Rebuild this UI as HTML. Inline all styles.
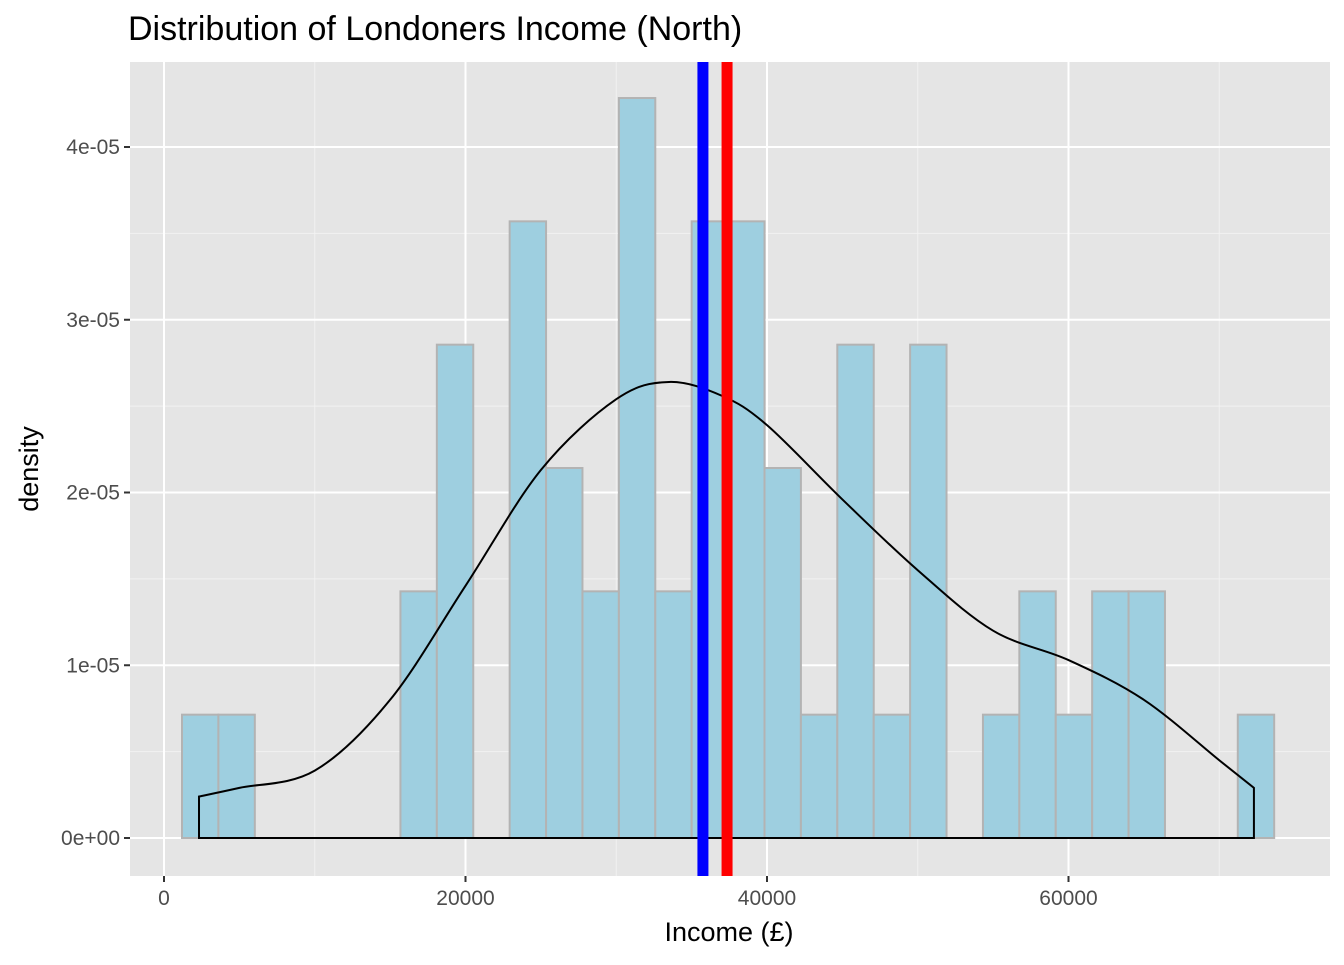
<!DOCTYPE html>
<html><head><meta charset="utf-8"><style>
body{margin:0;background:#fff;font-family:"Liberation Sans",Arial,sans-serif;}
</style></head><body>
<svg id="chart" width="1344" height="960" xmlns="http://www.w3.org/2000/svg" font-family="Liberation Sans, Arial, sans-serif">
<rect width="1344" height="960" fill="#fff"/>
<text x="128" y="40" font-size="34" fill="#000">Distribution of Londoners Income (North)</text>
<rect x="130" y="62" width="1200" height="814" fill="#e5e5e5"/>
<g id="grid"></g>
<g id="bars"></g>
<g id="curve"></g>
<g id="vlines"></g>
<g id="axes"></g>
<text x="729" y="941" font-size="27" text-anchor="middle" fill="#000">Income (£)</text>
<text transform="translate(38,469) rotate(-90)" font-size="27" text-anchor="middle" fill="#000">density</text>
</svg>
<script>
const binStart = 1194;
const binWidth = 2415;
const counts = [1,1,0,0,0,0,2,4,0,5,3,2,6,2,5,5,3,1,4,1,4,0,1,2,1,2,2,0,0,1];
const nObs = 58;
const densX = [2322,5000,10000,15000,20000,25000,30000,33500,37000,40000,45000,50000,55000,60000,65000,70000,72300];
const densY = [0.24e-5,0.29e-5,0.39e-5,0.8e-5,1.46e-5,2.13e-5,2.54e-5,2.64e-5,2.56e-5,2.39e-5,1.96e-5,1.55e-5,1.2e-5,1.03e-5,0.8e-5,0.45e-5,0.29e-5];
const meanVal = 37350;
const medianVal = 35750;
const xTicks = [0,20000,40000,60000];
const xMinor = [10000,30000,50000,70000];
const yTicks = [0,1e-5,2e-5,3e-5,4e-5];
const yTickLabels = ["0e+00","1e-05","2e-05","3e-05","4e-05"];
const yMinor = [0.5e-5,1.5e-5,2.5e-5,3.5e-5];

const NS="http://www.w3.org/2000/svg";
const X = v => 164 + v*0.015075;
const Y = v => 838 - v*1.7275e7;
const L=130,R=1330,T=62,B=876;
function mk(tag, parent, attrs){const e=document.createElementNS(NS,tag);for(const k in attrs)e.setAttribute(k,attrs[k]);document.getElementById(parent).appendChild(e);return e;}

xMinor.forEach(v=>{const e=mk('line','grid',{x1:X(v),x2:X(v),y1:T,y2:B,stroke:'#f2f2f2','stroke-width':1});

});
yMinor.forEach(v=>{const e=mk('line','grid',{x1:L,x2:R,y1:Y(v),y2:Y(v),stroke:'#f2f2f2','stroke-width':1});

});
xTicks.forEach(v=>{const e=mk('line','grid',{x1:X(v),x2:X(v),y1:T,y2:B,stroke:'#fff','stroke-width':2});

});
yTicks.forEach(v=>{const e=mk('line','grid',{x1:L,x2:R,y1:Y(v),y2:Y(v),stroke:'#fff','stroke-width':2});

});

counts.forEach((c,i)=>{if(c===0)return;
const d=c/(nObs*binWidth);
const x0=X(binStart+i*binWidth),x1=X(binStart+(i+1)*binWidth);
const e=mk('rect','bars',{x:x0,y:Y(d),width:x1-x0,height:Y(0)-Y(d),fill:'#9ecfe0',stroke:'#b3b3b3','stroke-width':2});

});

const pts=densX.map((v,i)=>[X(v),Y(densY[i])]);
let d=`M${X(densX[0])},${Y(0)} L${pts[0][0]},${pts[0][1]}`;
for(let i=0;i<pts.length-1;i++){const p0=pts[Math.max(i-1,0)],p1=pts[i],p2=pts[i+1],p3=pts[Math.min(i+2,pts.length-1)];
d+=` C${p1[0]+(p2[0]-p0[0])/6},${p1[1]+(p2[1]-p0[1])/6} ${p2[0]-(p3[0]-p1[0])/6},${p2[1]-(p3[1]-p1[1])/6} ${p2[0]},${p2[1]}`;}
d+=` L${X(densX[densX.length-1])},${Y(0)} Z`;
const cv=mk('path','curve',{d:d,fill:'none',stroke:'#000','stroke-width':2});



const med=mk('line','vlines',{x1:X(medianVal),x2:X(medianVal),y1:T,y2:B,stroke:'#0000ff','stroke-width':11});


const mn=mk('line','vlines',{x1:X(meanVal),x2:X(meanVal),y1:T,y2:B,stroke:'#ff0000','stroke-width':11});



xTicks.forEach(v=>{const t=mk('line','axes',{x1:X(v),x2:X(v),y1:B,y2:B+6,stroke:'#333','stroke-width':2});


const l=mk('text','axes',{x:X(v),y:B+29,'font-size':21,'text-anchor':'middle',fill:'#4d4d4d'});l.textContent=v;

});
yTicks.forEach((v,i)=>{const t=mk('line','axes',{x1:L-6,x2:L,y1:Y(v),y2:Y(v),stroke:'#333','stroke-width':2});


const l=mk('text','axes',{x:L-10,y:Y(v)+7,'font-size':21,'text-anchor':'end',fill:'#4d4d4d'});l.textContent=yTickLabels[i];

});
</script>
</body></html>
